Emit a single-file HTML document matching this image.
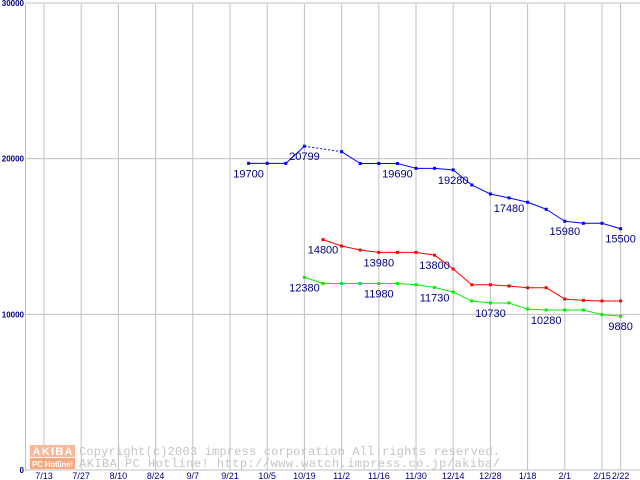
<!DOCTYPE html>
<html><head><meta charset="utf-8"><style>
html,body{margin:0;padding:0;background:#fff;width:640px;height:480px;overflow:hidden}
svg{display:block}
</style></head><body>
<svg id="chart" width="640" height="480" xmlns="http://www.w3.org/2000/svg" font-family="Liberation Sans, sans-serif">
<g id="grid"></g>
<g id="wm">
  <rect x="30" y="445" width="45" height="12" fill="#f9b897"/>
  <rect x="30" y="458" width="45" height="11" fill="#f9a77e"/>
  <text x="52.5" y="455" font-size="11" font-weight="bold" fill="#fff" text-anchor="middle" textLength="40">AKIBA</text>
  <text x="52.5" y="467" font-size="8" font-weight="bold" fill="#fff" text-anchor="middle" textLength="41">PC Hotline!</text>
  <text x="79" y="455" font-family="Liberation Mono, monospace" font-size="12" fill="#c4c4c4" textLength="421">Copyright(c)2003 impress corporation All rights reserved.</text>
  <text x="79" y="467" font-family="Liberation Mono, monospace" font-size="12" fill="#c4c4c4" textLength="421">AKIBA PC Hotline!  http://www.watch.impress.co.jp/akiba/</text>
</g>
<g id="axes"></g>
<g id="series"></g>
</svg>
<script>
const xTickLabels = ["7/13","7/27","8/10","8/24","9/7","9/21","10/5","10/19","11/2","11/16","11/30","12/14","12/28","1/18","2/1","2/15","2/22"];
const xTickWeeks = [0,2,4,6,8,10,12,14,16,18,20,22,24,26,28,30,31];
const yTicks = [0,10000,20000,30000];
const blueWeeks = [11,12,13,14,16,17,18,19,20,21,22,23,24,25,26,27,28,29,30,31];
const blueValues = [19700,19700,19700,20799,20450,19690,19690,19690,19380,19380,19280,18310,17730,17480,17200,16750,15980,15850,15850,15500];
const blueLabels = [[11,19700],[14,20799],[19,19690],[22,19280],[25,17480],[28,15980],[31,15500]];
const redWeeks = [15,16,17,18,19,20,21,22,23,24,25,26,27,28,29,30,31];
const redValues = [14800,14390,14130,13980,13980,13980,13800,12910,11900,11900,11820,11710,11710,10980,10900,10860,10860];
const redLabels = [[15,14800],[18,13980],[21,13800]];
const greenWeeks = [14,15,16,17,18,19,20,21,22,23,24,25,26,27,28,29,30,31];
const greenValues = [12380,11980,11980,11980,11980,11980,11900,11730,11430,10860,10730,10730,10340,10280,10280,10280,9980,9880];
const greenLabels = [[14,12380],[18,11980],[21,11730],[24,10730],[27,10280],[31,9880]];

const NS="http://www.w3.org/2000/svg";
const X = w => 44 + w*18.6;
const Y = v => 470 - v*467/30000;
function mk(parent,tag,attrs){const e=document.createElementNS(NS,tag);for(const k in attrs)e.setAttribute(k,attrs[k]);parent.appendChild(e);return e;}
const grid=document.getElementById('grid'), axes=document.getElementById('axes'), ser=document.getElementById('series');

yTicks.forEach(v=>{
  const l=mk(grid,'line',{x1:25,x2:640,y1:Y(v),y2:Y(v),stroke:'#c0c0c0','stroke-width':1});
  
  
  const t=mk(axes,'text',{x:24,y:Y(v)+3,'font-size':8,'font-weight':'bold',fill:'#000080','text-anchor':'end'});
  t.textContent=String(v);
  
  
});
xTickWeeks.forEach((w,i)=>{
  const l=mk(grid,'line',{x1:X(w),x2:X(w),y1:4,y2:470,stroke:'#c0c0c0','stroke-width':1});
  
  
  const t=mk(axes,'text',{x:X(w),y:479,'font-size':9,fill:'#000080','text-anchor':'middle'});
  t.textContent=xTickLabels[i];
  
  
});
const ax=mk(axes,'line',{x1:25.5,x2:25.5,y1:4,y2:471,stroke:'#c0c0c0','stroke-width':1});



function drawSeries(weeks,vals,labels,color,name){
  const g=mk(ser,'g',{});
  
  
  for(let i=1;i<weeks.length;i++){
    const gap=weeks[i]-weeks[i-1]>1;
    const l=mk(g,'line',{x1:X(weeks[i-1]),y1:Y(vals[i-1]),x2:X(weeks[i]),y2:Y(vals[i]),stroke:color,'stroke-width':1});
    if(gap)l.setAttribute('stroke-dasharray','2,2');
    
    
  }
  weeks.forEach((w,i)=>{
    const r=mk(g,'rect',{x:X(w)-1.5,y:Y(vals[i])-1.5,width:3,height:3,fill:color});
    
    
  });
  labels.forEach(([w,v])=>{
    const t=mk(g,'text',{x:X(w),y:Y(v)+14,'font-size':11,fill:'#000080','text-anchor':'middle'});
    t.textContent=String(v);
    
    
  });
}
drawSeries(blueWeeks,blueValues,blueLabels,'#0000ff','blue');
drawSeries(redWeeks,redValues,redLabels,'#ff0000','red');
drawSeries(greenWeeks,greenValues,greenLabels,'#00ee00','green');
</script>
</body></html>
